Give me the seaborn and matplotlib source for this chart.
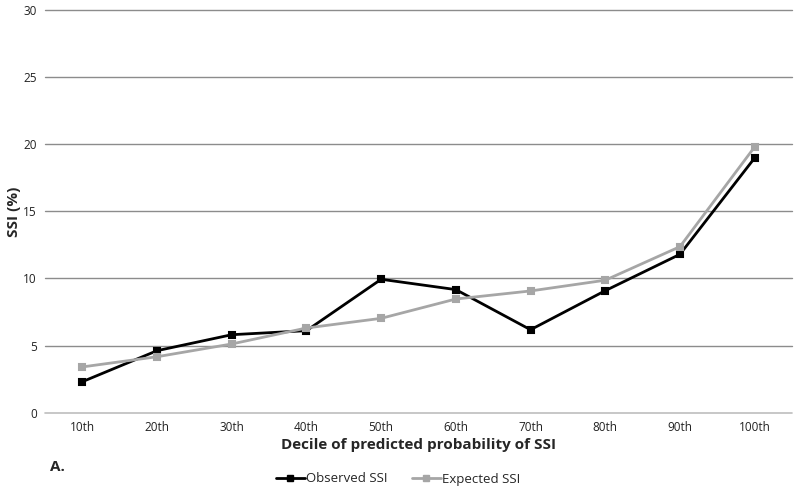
import matplotlib
matplotlib.use("Agg")
import matplotlib.pyplot as plt
import seaborn as sns
import pandas as pd
from matplotlib.lines import Line2D

deciles = ["10th", "20th", "30th", "40th", "50th", "60th", "70th", "80th", "90th", "100th"]
observed = [2.31, 4.62, 5.81, 6.11, 9.94, 9.17, 6.18, 9.09, 11.80, 18.98]
expected = [3.41, 4.17, 5.12, 6.31, 7.03, 8.47, 9.07, 9.87, 12.37, 19.80]
series_names = ["Observed SSI", "Expected SSI"]
y_ticks = [0, 5, 10, 15, 20, 25, 30]

df = pd.DataFrame({
    "Decile": deciles * 2,
    "SSI": observed + expected,
    "Series": [series_names[0]] * len(deciles) + [series_names[1]] * len(deciles),
})

sns.set_style("white")
plt.rcParams["font.family"] = ["Open Sans", "DejaVu Sans"]

fig = plt.figure(figsize=(8, 4.91), dpi=100)
ax = fig.add_axes([45 / 800, 1 - 412.7 / 491, (792 - 45) / 800, (412.7 - 10) / 491])

sns.pointplot(data=df, x="Decile", y="SSI", hue="Series", order=deciles,
              hue_order=series_names, palette=["#000000", "#a6a6a6"],
              markers="s", linestyles="-", errorbar=None, ax=ax,
              markersize=5, linewidth=2, legend=False)

ax.set_ylim(0, 30)
ax.set_xlim(-0.5, len(deciles) - 0.5)
ax.set_yticks(y_ticks)
for y in y_ticks:
    ax.axhline(y, color="#bdbdbd" if y == 0 else "#8c8c8c", lw=1.2 if y == 0 else 1,
               zorder=0, clip_on=False)
for s in ax.spines.values():
    s.set_visible(False)
ax.tick_params(axis="both", length=0, labelsize=8.5, colors="#222222")
ax.tick_params(axis="x", pad=6)
ax.tick_params(axis="y", pad=6)
ax.set_xlabel("Decile of predicted probability of SSI", fontsize=11, fontweight="bold", labelpad=3)
ax.set_ylabel("SSI (%)", fontsize=11, fontweight="bold")
ax.yaxis.set_label_coords((21 - 45) / 747, 0.5)

fig.text(50 / 800, 1 - 467 / 491, "A.", fontsize=11, fontweight="bold", va="center", ha="left")

handles = [Line2D([], [], color="#000000", lw=2, marker="s", markersize=5),
           Line2D([], [], color="#a6a6a6", lw=2, marker="s", markersize=5)]
fig.legend(handles, series_names, loc="center", bbox_to_anchor=(398 / 800, 1 - 479 / 491),
           ncol=2, frameon=False, fontsize=9.5, handlelength=2.2, handletextpad=0.1,
           columnspacing=1.8)

fig.savefig("out.png", dpi=100)
